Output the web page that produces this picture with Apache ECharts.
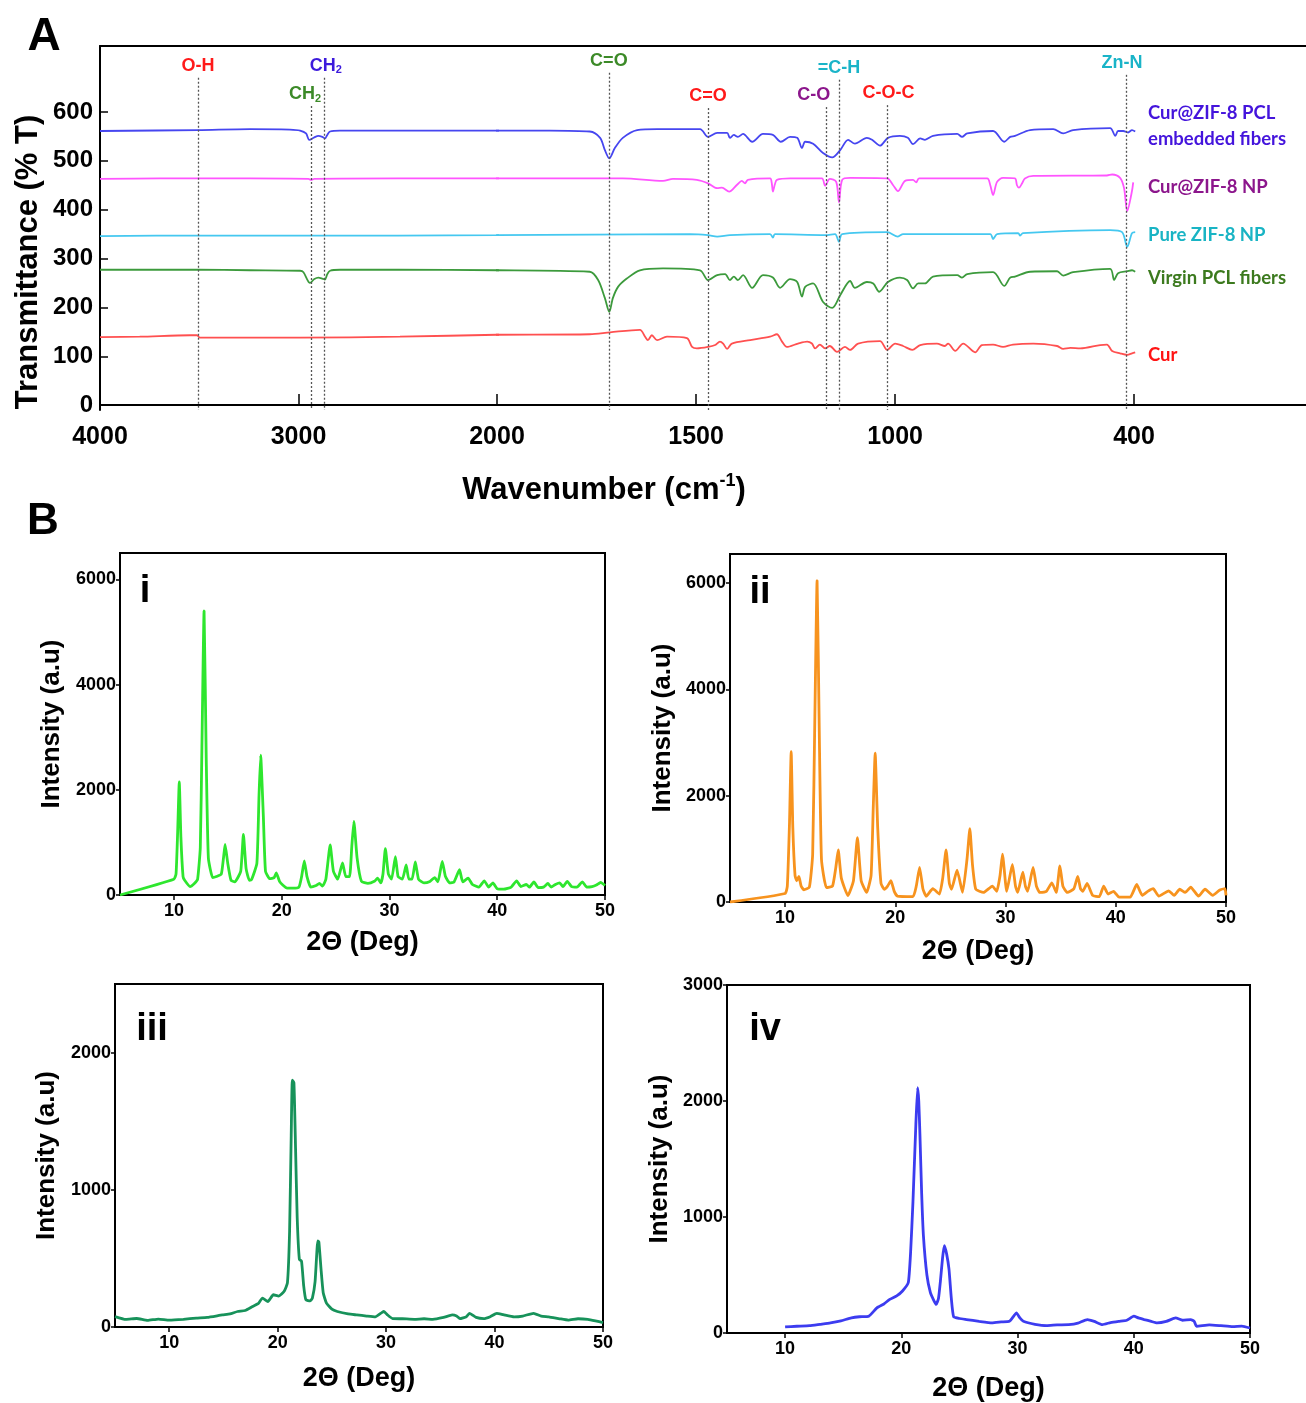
<!DOCTYPE html>
<html><head><meta charset="utf-8">
<script src="https://cdn.jsdelivr.net/npm/echarts@6/dist/echarts.min.js"></script>
<style>html,body{margin:0;padding:0;background:#fff}#c{width:1306px;height:1403px}</style>
</head><body><div id="c"></div>
<script>
// ===== Panel A : FTIR  [wavenumber (cm-1), transmittance (%T, offset)] =====
const ftirCurZifPcl = [[4000,561],[3506,563],[3244,565],[3043,564],[2992,562],[2962,556],[2946,543],[2920,548],[2900,551],[2880,549],[2867,546],[2855,553],[2841,560],[2791,562],[2500,562],[2237,562],[2000,562],[1867,562],[1767,560],[1741,547],[1729,522],[1718,505],[1704,526],[1684,547],[1648,563],[1598,565],[1490,565],[1470,549],[1447,557],[1422,557],[1415,547],[1405,553],[1395,549],[1382,555],[1359,539],[1332,555],[1307,553],[1287,539],[1264,549],[1246,547],[1234,526],[1226,539],[1206,535],[1181,516],[1158,507],[1138,522],[1118,543],[1101,535],[1071,547],[1058,543],[1038,531],[1018,547],[988,551],[968,547],[955,534],[937,546],[925,543],[905,551],[844,555],[832,549],[819,556],[754,561],[726,539],[711,549],[699,551],[661,563],[603,565],[578,556],[553,563],[460,567],[447,551],[440,561],[427,561],[415,558],[405,563],[397,560]];
const ftirCurZif = [[4000,463],[3700,464],[3244,464],[2950,463],[2937,461],[2920,463],[2500,464],[2000,464],[1767,464],[1684,464],[1583,459],[1558,463],[1498,461],[1470,454],[1447,444],[1435,445],[1417,437],[1397,451],[1385,459],[1377,454],[1370,461],[1314,464],[1310,455],[1307,437],[1302,452],[1297,461],[1264,464],[1184,464],[1176,449],[1164,463],[1148,457],[1141,415],[1133,461],[1113,465],[1020,464],[1005,450],[993,438],[975,459],[955,461],[947,456],[940,464],[769,464],[761,450],[754,430],[744,457],[729,465],[699,464],[694,450],[689,445],[681,454],[674,464],[653,469],[468,470],[455,472],[435,465],[425,444],[417,397],[407,430],[402,456]];
const ftirZif = [[4000,346],[3500,347],[2992,347],[2500,347],[2000,348],[1767,349],[1515,350],[1470,348],[1447,345],[1415,348],[1314,350],[1307,343],[1302,350],[1176,348],[1151,350],[1141,334],[1133,350],[1020,354],[993,345],[980,350],[761,350],[754,340],[744,350],[691,352],[686,347],[679,352],[460,358],[430,354],[417,324],[405,352],[397,354]];
const ftirPcl = [[4000,277],[3506,277],[3244,276],[2992,275],[2975,272],[2942,250],[2920,258],[2900,261],[2880,259],[2867,257],[2855,268],[2841,275],[2791,277],[2500,277],[2000,276],[1767,273],[1746,256],[1729,219],[1718,191],[1709,219],[1696,242],[1674,259],[1641,276],[1583,280],[1490,276],[1470,256],[1447,266],[1427,268],[1415,256],[1405,263],[1395,256],[1382,266],[1359,240],[1332,266],[1307,261],[1289,240],[1264,258],[1246,252],[1234,222],[1226,242],[1206,249],[1181,211],[1158,199],[1138,225],[1113,254],[1101,240],[1071,252],[1055,249],[1040,232],[1018,252],[988,261],[970,256],[955,239],[942,249],[925,249],[905,263],[844,266],[832,261],[819,268],[754,272],[726,244],[711,261],[699,263],[661,273],[593,274],[578,265],[553,272],[460,279],[450,256],[440,270],[417,274],[405,276],[397,273]];
const ftirCur = [[4000,139],[3800,140],[3547,143],[3511,143],[3496,138],[3200,138],[2992,138],[2489,140],[2000,144],[1767,145],[1716,149],[1641,154],[1628,140],[1621,133],[1611,143],[1598,133],[1573,140],[1523,137],[1510,119],[1498,116],[1470,119],[1452,123],[1440,130],[1432,126],[1422,115],[1410,126],[1364,133],[1314,140],[1297,145],[1284,130],[1272,119],[1244,126],[1221,130],[1209,126],[1201,116],[1189,124],[1176,116],[1164,121],[1146,109],[1126,119],[1113,113],[1093,126],[1038,131],[1020,113],[1000,126],[980,121],[957,113],[937,123],[895,126],[875,121],[867,126],[849,111],[829,126],[799,108],[782,123],[754,124],[729,119],[704,124],[653,126],[593,121],[578,115],[560,117],[535,116],[485,123],[468,124],[455,111],[435,106],[417,103],[405,106],[397,108]];
const ftirNames = ['Cur@ZIF-8 PCL embedded fibers','Cur@ZIF-8 NP','Pure ZIF-8 NP','Virgin PCL fibers','Cur'];
const ftirYTicks = [0,100,200,300,400,500,600];
const ftirXTicksHigh = [4000,3000,2000];
const ftirXTicksLow = [1500,1000,400];
// band assignments: wavenumber, top of guide line (%T), label
const bandWn = [3506,2937,2868,1719,1470,1174,1141,1019,420];
const bandTop = [670,612,670,680,608,610,666,614,676];
const bandNames = ['O-H','CH{s|2}','CH{s|2}','C=O','C=O','C-O','=C-H','C-O-C','Zn-N'];

// ===== Panel B : XRD  [2θ (deg), intensity (a.u)] =====
const xrdTicks = [10,20,30,40,50];
const xrdI = [[5,0],[10,300],[10.2,400],[10.35,1200],[10.5,2150],[10.65,1100],[10.85,350],[11.0,280],[11.5,160],[11.9,220],[12.2,300],[12.45,900],[12.6,2800],[12.8,5400],[13.0,2600],[13.2,700],[13.6,330],[13.95,350],[14.4,400],[14.6,700],[14.75,960],[15.0,600],[15.3,280],[15.65,250],[16.2,450],[16.45,1150],[16.7,500],[17.0,280],[17.2,290],[17.7,600],[17.9,1900],[18.05,2660],[18.3,1500],[18.5,450],[18.9,310],[19.3,330],[19.5,420],[19.8,260],[20.1,190],[20.5,130],[21.0,130],[21.6,150],[21.85,350],[22.1,650],[22.35,350],[22.7,150],[23.2,180],[23.5,220],[23.8,170],[24.1,300],[24.5,950],[24.8,450],[25.2,300],[25.65,610],[25.95,350],[26.3,350],[26.5,900],[26.7,1400],[27.0,700],[27.4,260],[28.0,220],[28.6,260],[28.9,320],[29.2,230],[29.4,400],[29.62,880],[29.9,400],[30.2,300],[30.55,730],[30.8,350],[31.2,300],[31.55,570],[31.8,300],[32.1,300],[32.4,630],[32.7,300],[33.2,230],[33.7,250],[34.2,330],[34.5,250],[34.9,640],[35.2,350],[35.6,230],[36.0,250],[36.5,480],[36.8,250],[37.3,320],[37.7,200],[38.3,150],[38.8,270],[39.2,150],[39.6,230],[40.0,120],[40.6,110],[41.3,150],[41.8,270],[42.2,160],[42.7,200],[43.0,150],[43.4,250],[43.8,140],[44.3,150],[44.7,220],[45.0,150],[45.4,200],[45.8,230],[46.1,160],[46.5,260],[46.9,160],[47.4,150],[47.9,250],[48.3,150],[48.8,160],[49.2,190],[49.6,240],[50,180]];
const xrdII = [[5,0],[10,160],[10.2,300],[10.4,1500],[10.55,2830],[10.7,1400],[10.9,500],[11.05,400],[11.25,480],[11.45,300],[11.7,230],[12.2,280],[12.5,900],[12.7,3500],[12.9,6050],[13.1,3200],[13.3,800],[13.75,270],[14.3,300],[14.6,650],[14.82,980],[15.1,450],[15.7,120],[16.2,400],[16.56,1210],[16.9,400],[17.4,180],[17.8,500],[18.0,1800],[18.17,2800],[18.4,1400],[18.7,350],[19.0,240],[19.3,300],[19.6,400],[19.9,200],[20.2,110],[21.6,100],[21.9,300],[22.2,650],[22.5,250],[22.8,110],[23.4,250],[24.0,150],[24.3,450],[24.6,980],[24.9,350],[25.1,240],[25.6,600],[26.1,180],[26.5,800],[26.76,1380],[27.0,700],[27.3,240],[28.0,180],[28.8,300],[29.2,200],[29.5,500],[29.72,900],[30.0,350],[30.1,200],[30.62,710],[30.9,300],[31.1,180],[31.57,560],[31.8,300],[32.0,200],[32.5,650],[32.8,300],[33.1,180],[33.7,200],[34.2,360],[34.6,180],[34.93,680],[35.2,300],[35.6,180],[36.2,250],[36.55,480],[36.8,250],[37.0,200],[37.4,350],[37.9,125],[38.5,100],[38.9,300],[39.3,150],[39.8,200],[40.3,90],[41.3,90],[41.9,330],[42.4,125],[42.9,200],[43.4,250],[43.9,110],[44.8,210],[45.3,125],[45.8,240],[46.3,180],[46.8,280],[47.5,110],[48.1,240],[48.8,125],[49.4,220],[49.9,250],[50,125]];
const xrdIII = [[5,76],[6,55],[7,62],[8,48],[9,58],[10,50],[11.3,56],[12.5,65],[13.5,70],[14.9,88],[15.6,95],[16.3,113],[17,120],[17.7,150],[18.2,170],[18.6,211],[19.1,186],[19.6,235],[20.1,225],[20.6,260],[20.9,321],[21.1,700],[21.25,1400],[21.35,1800],[21.5,1780],[21.65,1300],[21.8,800],[22.0,493],[22.2,480],[22.4,300],[22.6,199],[23.0,190],[23.2,211],[23.45,330],[23.7,627],[23.8,620],[24.0,420],[24.2,250],[24.5,174],[25.0,130],[25.5,113],[26.5,95],[27.3,88],[28.2,80],[29.0,74],[29.6,105],[29.8,113],[30.1,90],[30.6,61],[31.5,60],[32.6,56],[33.5,60],[34.3,56],[35.3,70],[36.1,88],[36.5,80],[36.8,61],[37.4,75],[37.7,100],[38.3,70],[39.0,61],[39.6,75],[40.2,100],[40.8,90],[41.8,74],[42.6,80],[43.6,100],[44.3,80],[45.0,74],[46.0,60],[46.8,50],[47.7,60],[48.6,56],[49.3,45],[50,32]];
const xrdIV = [[10,52],[11,58],[12.1,63],[13,75],[13.9,87],[14.8,105],[15.7,130],[16.4,140],[17.2,145],[17.9,217],[18.5,250],[19.0,290],[19.6,320],[20.1,362],[20.6,435],[20.8,700],[21.0,1130],[21.25,1800],[21.4,2116],[21.5,2000],[21.6,1710],[21.75,1200],[21.9,840],[22.2,500],[22.5,348],[22.8,280],[23.0,246],[23.2,300],[23.35,435],[23.55,650],[23.7,753],[23.9,680],[24.1,550],[24.3,300],[24.5,140],[25.0,125],[25.6,116],[26.7,100],[27.8,87],[28.6,95],[29.3,101],[29.7,150],[29.9,174],[30.2,130],[30.5,101],[31.5,75],[32.5,63],[33.4,70],[34.4,72],[35.2,85],[36.0,116],[36.6,100],[37.3,72],[38.0,90],[38.7,101],[39.4,110],[40.0,145],[40.4,130],[40.9,116],[41.5,100],[42.0,87],[42.8,100],[43.6,130],[44.2,110],[44.9,116],[45.2,100],[45.4,58],[46.5,70],[47.5,63],[48.5,55],[49.3,60],[50,43]];
const xrdYTicks = [[0,2000,4000,6000],[0,2000,4000,6000],[0,1000,2000],[0,1000,2000,3000]];
const xrdYMax = [6500,6550,2500,3000];
const xrdTags = ['i','ii','iii','iv'];

// ===== styles =====
const F = '"Liberation Sans", Arial, sans-serif';
const FL = 'Lato, "Open Sans", sans-serif';
const plain = v => String(v);
const ftirColors = ['#4646f0','#ff55ff','#45c8f0','#3c9a3c','#ff5050'];
const ftirTextColors = ['#4414dc','#8c168c','#19b4c4','#3c7a1e','#ff1414'];
const bandColors = ['#ff1a1a','#3c8a28','#3c1adc','#3c8a28','#ff1a1a','#8c168c','#1ab4c8','#ff1a1a','#1ab4c8'];
const bandDx = [0,-6,1,0,0,-12,0,1,-4];
const xrdColors = ['#2ee62e','#f7931e','#17925a','#3c3cf0'];
const xrdData = [xrdI, xrdII, xrdIII, xrdIV];
const ftirData = [ftirCurZifPcl, ftirCurZif, ftirZif, ftirPcl, ftirCur];

const grids = [
  {left:100, top:46, width:397, height:364},
  {left:497, top:46, width:809, height:364},
  {left:120, top:553, width:485, height:342},
  {left:730, top:554, width:496, height:348},
  {left:115, top:984, width:488, height:343},
  {left:727, top:985, width:523, height:348}
].map(g => Object.assign({containLabel:false, outerBoundsMode:'none'}, g));
for (let i=2;i<6;i++){ Object.assign(grids[i], {show:true, borderColor:'#000', borderWidth:2, backgroundColor:'transparent'}); }

const lineAx = {show:true, lineStyle:{color:'#000', width:2}};
const xAxes = [
  {type:'value', gridIndex:0, min:2000, max:4000, inverse:true, position:'bottom', axisLine:lineAx,
   axisTick:{show:true, inside:true, length:11, lineStyle:{color:'#000', width:1.5}, customValues:[3000,2000]},
   axisLabel:{show:true, customValues:ftirXTicksHigh, formatter:plain, margin:15, color:'#000', fontSize:25, fontWeight:'bold', fontFamily:F}, splitLine:{show:false}},
  {type:'value', gridIndex:1, min:-32, max:2000, inverse:true, position:'bottom', axisLine:lineAx,
   axisTick:{show:true, inside:true, length:11, lineStyle:{color:'#000', width:1.5}, customValues:ftirXTicksLow},
   axisLabel:{show:true, customValues:ftirXTicksLow, formatter:plain, margin:15, color:'#000', fontSize:25, fontWeight:'bold', fontFamily:F}, splitLine:{show:false}},
  {type:'value', gridIndex:0, min:2000, max:4000, inverse:true, position:'top', axisLine:lineAx, axisTick:{show:false}, axisLabel:{show:false}, splitLine:{show:false}},
  {type:'value', gridIndex:1, min:-32, max:2000, inverse:true, position:'top', axisLine:lineAx, axisTick:{show:false}, axisLabel:{show:false}, splitLine:{show:false}}
];
const yAxes = [
  {type:'value', gridIndex:0, min:-10, max:735, position:'left', axisLine:lineAx,
   axisTick:{show:true, inside:true, length:8, lineStyle:{color:'#000', width:1.5}, customValues:ftirYTicks},
   axisLabel:{show:true, customValues:ftirYTicks, formatter:plain, margin:7, color:'#000', fontSize:24, fontWeight:'bold', fontFamily:F}, splitLine:{show:false}},
  {type:'value', gridIndex:1, min:-10, max:735, show:false, splitLine:{show:false}}
];
const xNameGap = [34,36,38,42];
const yNameGap = [55,54,55,54];
for (let p=0;p<4;p++){
  xAxes.push({type:'value', gridIndex:p+2, min:5, max:50, position:'bottom', axisLine:lineAx,
    axisTick:{show:true, length:5, lineStyle:{color:'#000', width:1.5}, customValues:xrdTicks},
    axisLabel:{show:true, customValues:xrdTicks, formatter:plain, margin:7, color:'#000', fontSize:18, fontWeight:'bold', fontFamily:F},
    splitLine:{show:false}, name:'2Θ (Deg)', nameLocation:'middle', nameGap:xNameGap[p],
    nameTextStyle:{color:'#000', fontSize:27, fontWeight:'bold', fontFamily:F}});
  yAxes.push({type:'value', gridIndex:p+2, min:0, max:xrdYMax[p], position:'left', axisLine:lineAx,
    axisTick:{show:true, length:4, lineStyle:{color:'#000', width:1.5}, customValues:xrdYTicks[p]},
    axisLabel:{show:true, customValues:xrdYTicks[p], formatter:plain, margin:4, color:'#000', fontSize:18, fontWeight:'bold', fontFamily:F},
    splitLine:{show:false}, name:'Intensity (a.u)', nameLocation:'middle', nameGap:yNameGap[p],
    nameTextStyle:{color:'#000', fontSize:26, fontWeight:'bold', fontFamily:F}});
}

function bandMarkLine(gi){
  const items = [];
  bandWn.forEach((w,i) => {
    if ((gi===0) !== (w>2000)) return;
    items.push([
      {coord:[w, bandTop[i]], label:{formatter:bandNames[i], color:bandColors[i], offset:[bandDx[i],0],
        rich:{s:{fontSize:11, fontWeight:'bold', fontFamily:F, color:bandColors[i], verticalAlign:'bottom', lineHeight:12}}}},
      {coord:[w, -10]}
    ]);
  });
  return {symbol:['none','none'], silent:true, animation:false,
    lineStyle:{color:'#555', width:1.3, type:[2,2]},
    label:{show:true, position:'start', distance:2, fontSize:18, fontWeight:'bold', fontFamily:F, lineHeight:20},
    emphasis:{disabled:true}, data:items};
}

const series = [];
for (let gi=0; gi<2; gi++){
  ftirData.forEach((d,k) => {
    const s = {type:'line', name:ftirNames[k], xAxisIndex:gi, yAxisIndex:gi, data:d, showSymbol:false, symbol:'none',
      smooth:0.3, clip:true, silent:true, z:3, lineStyle:{color:ftirColors[k], width:1.8}, itemStyle:{color:ftirColors[k]}};
    if (k===4) s.markLine = bandMarkLine(gi);
    series.push(s);
  });
}
xrdData.forEach((d,p) => {
  series.push({type:'line', name:xrdTags[p], xAxisIndex:p+4, yAxisIndex:p+2, data:d, showSymbol:false, symbol:'none',
    smooth:0.15, clip:true, silent:true, lineStyle:{color:xrdColors[p], width:2.8}, itemStyle:{color:xrdColors[p]}});
});

function txt(t, x, y, size, color, opts){
  return Object.assign({type:'text', x:x, y:y, silent:true, z:10,
    style:Object.assign({text:t, fill:color||'#000', fontSize:size, fontWeight:'bold', fontFamily:F,
      textAlign:'center', textVerticalAlign:'middle', align:'center', verticalAlign:'middle'}, (opts&&opts.style)||{})},
    (opts&&opts.el)||{});
}
const leftAlign = {style:{textAlign:'left', align:'left', fontFamily:FL}};
const graphic = [
  txt('A', 44, 37, 46, '#000'),
  txt('B', 43, 522, 44, '#000'),
  txt('Transmittance (% T)', 28, 262, 31, '#000', {el:{rotation:Math.PI/2}}),
  txt('Wavenumber (cm{sup|-1})', 604, 490, 31, '#000', {style:{rich:{sup:{fontSize:18, fontWeight:'bold', fontFamily:F, fill:'#000', verticalAlign:'top', lineHeight:34}}, lineHeight:36}}),
  txt('Cur@ZIF-8 PCL', 1148, 113, 18.5, ftirTextColors[0], leftAlign),
  txt('embedded fibers', 1148, 139, 18.5, ftirTextColors[0], leftAlign),
  txt('Cur@ZIF-8 NP', 1148, 187, 18.5, ftirTextColors[1], leftAlign),
  txt('Pure ZIF-8 NP', 1148, 235, 18.5, ftirTextColors[2], leftAlign),
  txt('Virgin PCL fibers', 1148, 278, 18.5, ftirTextColors[3], leftAlign),
  txt('Cur', 1148, 355, 18.5, ftirTextColors[4], leftAlign),
  txt(xrdTags[0], 145, 592, 38, '#000'),
  txt(xrdTags[1], 760, 593, 38, '#000'),
  txt(xrdTags[2], 152, 1030, 38, '#000'),
  txt(xrdTags[3], 765, 1030, 38, '#000')
];

const chart = echarts.init(document.getElementById('c'), null, {renderer:'canvas'});
chart.setOption({
  animation:false, backgroundColor:'#fff',
  grid:grids, xAxis:xAxes, yAxis:yAxes, series:series, graphic:graphic,
  tooltip:{show:false}, legend:{show:false}
});
</script></body></html>
